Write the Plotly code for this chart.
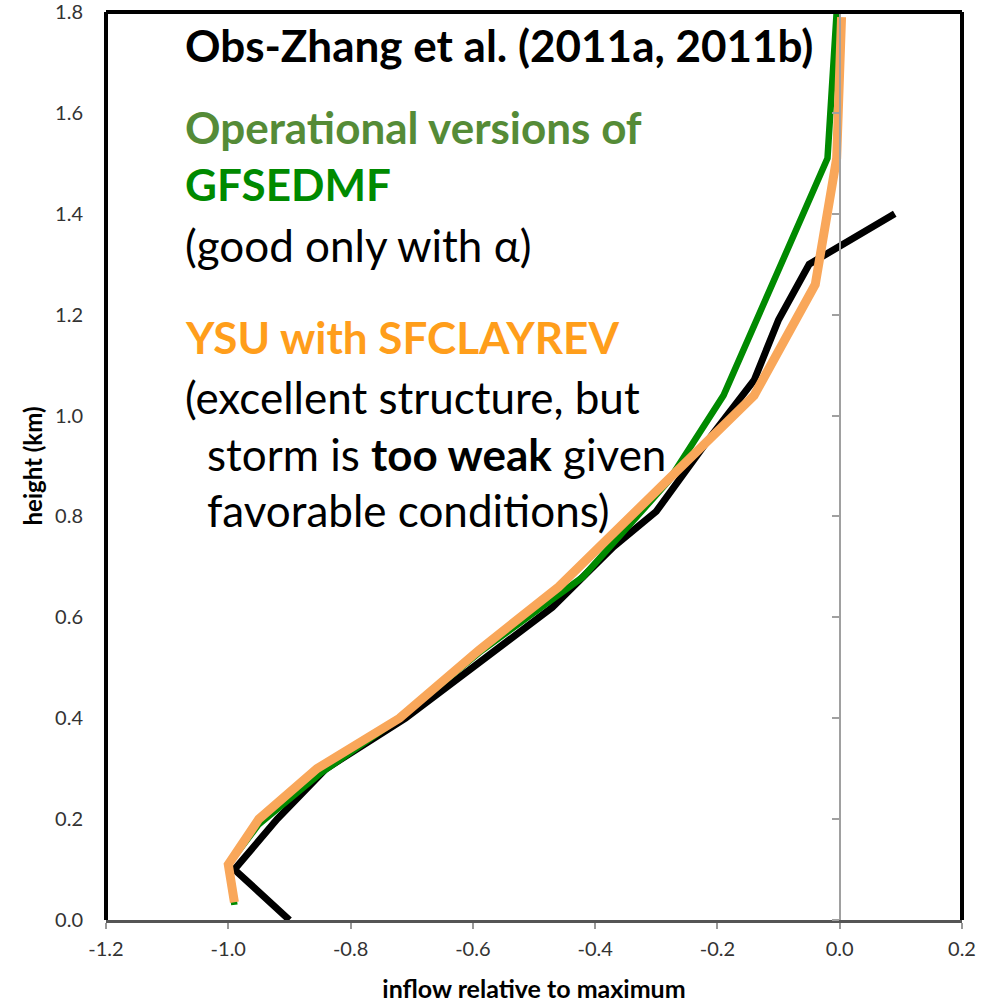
import plotly.graph_objects as go

# ---- data ----
obs_x = [-0.90, -0.99, -0.92, -0.84, -0.71, -0.59, -0.47, -0.37, -0.30, -0.21, -0.14, -0.10, -0.05, 0.09]
obs_y = [0.00, 0.10, 0.20, 0.30, 0.40, 0.51, 0.62, 0.74, 0.81, 0.96, 1.07, 1.19, 1.30, 1.40]

gfs_x = [-0.99, -1.00, -0.95, -0.85, -0.72, -0.59, -0.42, -0.28, -0.19, -0.02, -0.005]
gfs_y = [0.03, 0.11, 0.19, 0.29, 0.40, 0.53, 0.68, 0.87, 1.04, 1.51, 1.80]

ysu_x = [-0.99, -1.00, -0.95, -0.855, -0.72, -0.59, -0.46, -0.29, -0.14, -0.04, -0.005, 0.003]
ysu_y = [0.035, 0.11, 0.20, 0.30, 0.40, 0.535, 0.66, 0.86, 1.04, 1.26, 1.51, 1.79]

x_ticks = [-1.2, -1.0, -0.8, -0.6, -0.4, -0.2, 0.0, 0.2]
y_ticks = [0.0, 0.2, 0.4, 0.6, 0.8, 1.0, 1.2, 1.4, 1.6, 1.8]

FONT = "Lato"

fig = go.Figure()
fig.add_trace(go.Scatter(x=obs_x, y=obs_y, mode="lines", line=dict(color="black", width=7),
                         showlegend=False))
fig.add_trace(go.Scatter(x=gfs_x, y=gfs_y, mode="lines", line=dict(color="#008A00", width=6.5),
                         showlegend=False))
fig.add_trace(go.Scatter(x=ysu_x, y=ysu_y, mode="lines", line=dict(color="#F9A75A", width=9),
                         showlegend=False))

# y axis line at x = 0 with its tick marks (Excel style crossing)
fig.add_trace(go.Scatter(x=[None], y=[None], yaxis="y2", showlegend=False))

W, H = 999, 1003
L, R, T, B = 106, 999 - 962, 12, 1003 - 920
YMAX = 1.8
YSCALE = (920 - T) / YMAX

fig.update_layout(
    width=W, height=H,
    margin=dict(l=L, r=R, t=T, b=B, autoexpand=False),
    plot_bgcolor="white", paper_bgcolor="white",
    font=dict(family=FONT, color="#404040"),
    xaxis=dict(range=[-1.2, 0.2], tickvals=x_ticks,
               ticktext=[f"{v:.1f}" for v in x_ticks],
               showgrid=False, zeroline=False, showline=True, linecolor="#555555", linewidth=3,
               ticks="outside", ticklen=6, tickcolor="#999999", tickwidth=1.5,
               tickfont=dict(size=20, family=FONT, color="#333333"),
               ticklabelstandoff=3, automargin=False, ticklabeloverflow="allow",
               title=dict(text="<b>inflow relative to maximum</b>", standoff=26,
                          font=dict(size=25, family=FONT, color="#000000"))),
    yaxis=dict(range=[0, YMAX], tickvals=y_ticks,
               ticktext=[f"{v:.1f}" for v in y_ticks],
               showgrid=False, zeroline=False, showline=False, ticks="",
               tickfont=dict(size=20, family=FONT, color="#333333"),
               ticklabelstandoff=22, automargin=False, ticklabeloverflow="allow",
               title=dict(text="<b>height (km)</b>", standoff=5,
                          font=dict(size=24, family=FONT, color="#000000"))),
    yaxis2=dict(range=[0, YMAX], tickvals=y_ticks, overlaying="y", anchor="free",
                position=(840 - 106) / 856, showgrid=False, zeroline=False,
                showline=True, linecolor="#A0A0A0", linewidth=1.5,
                ticks="outside", ticklen=7, tickcolor="#A0A0A0", tickwidth=1.5,
                showticklabels=False, side="left", automargin=False),
)

# frame: left, top, right in heavy black
for x0, y0, x1, y1 in [(0, 0, 0, 1), (0, 1, 1, 1), (1, 0, 1, 1)]:
    fig.add_shape(type="line", xref="paper", yref="paper", x0=x0, y0=y0, x1=x1, y1=y1,
                  line=dict(color="black", width=4), layer="above")


def px2x(px):
    return -1.2 + (px - 106) / 611.4


def py2y(py):
    return (920 - py) / YSCALE


texts = [
    (183, 45, "<b>Obs-Zhang et al. (2011a, 2011b)</b>", "#000000"),
    (183, 127, "<b>Operational versions of</b>", "#558B37"),
    (183, 184, "<b>GFSEDMF</b>", "#008A00"),
    (183, 245, "(good only with α)", "#000000"),
    (183, 337, "<b>YSU with SFCLAYREV</b>", "#FF9E1B"),
    (183, 397, "(excellent structure, but", "#000000"),
    (205, 454, "storm is <b>too weak</b> given", "#000000"),
    (205, 510, "favorable conditions)", "#000000"),
]
for px, py, t, c in texts:
    fig.add_annotation(x=px2x(px), y=py2y(py), xref="x", yref="y", text=t, showarrow=False,
                       xanchor="left", yanchor="middle",
                       font=dict(size=44, family=FONT, color=c))

fig.write_html("out.html")
